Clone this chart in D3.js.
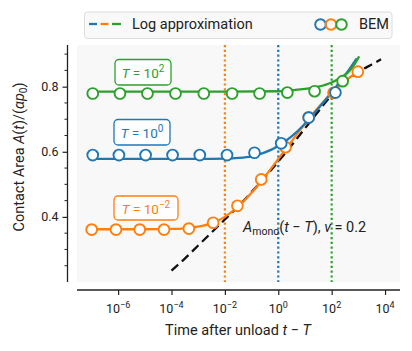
<!DOCTYPE html>
<html><head><meta charset="utf-8">
<script src="https://cdn.jsdelivr.net/npm/d3@7"></script>
<style>
body{margin:0;background:#fff;}
text{font-family:Roboto,"DejaVu Sans",sans-serif;fill:#222;}
</style></head>
<body><svg id="c" width="412" height="351"></svg>
<script>
// ---------- data (log10 of time after unload, contact area) ----------
const seriesNames = ["T = 10^-2", "T = 10^0", "T = 10^2"];
const seriesColors = ["#ff7f0e", "#1f77b4", "#2ca02c"];
const vlineLogT = [-2, 0, 2];

// BEM points
const bemLogTOrange = [-6.99, -6.08, -5.19, -4.28, -3.35, -2.44, -1.53, -0.64, 0.27, 1.14, 2.07, 2.98];
const bemAOrange    = [0.361, 0.361, 0.361, 0.361, 0.364, 0.382, 0.434, 0.515, 0.614, 0.706, 0.781, 0.846];
const bemLogTBlue   = [-6.95, -5.97, -4.97, -3.96, -2.94, -1.92, -0.89, 0.11, 1.14, 2.14];
const bemABlue      = [0.590, 0.590, 0.590, 0.590, 0.590, 0.590, 0.597, 0.626, 0.705, 0.782];
const bemLogTGreen  = [-6.95, -5.93, -4.90, -3.85, -2.79, -1.73, -0.70, 0.34, 1.36, 2.41];
const bemAGreen     = [0.779, 0.779, 0.779, 0.779, 0.779, 0.779, 0.779, 0.782, 0.786, 0.817];

// Log approximation curves
const logLogTOrange = [-6.99, -5, -4, -3.5, -3, -2.5, -2, -1.5, -1, -0.5, 0, 0.5, 1, 1.5, 2, 2.5, 2.98];
const logAOrange    = [0.362, 0.362, 0.363, 0.365, 0.370, 0.380, 0.400, 0.432, 0.474, 0.524, 0.578, 0.632, 0.686, 0.736, 0.780, 0.817, 0.846];
const logLogTBlue   = [-6.95, -3, -2, -1.5, -1, -0.5, 0, 0.5, 1, 1.5, 2, 2.5, 2.94];
const logABlue      = [0.578, 0.578, 0.579, 0.581, 0.586, 0.598, 0.618, 0.647, 0.686, 0.733, 0.783, 0.835, 0.887];
const logLogTGreen  = [-6.95, -2, 0, 0.5, 1, 1.5, 2, 2.3, 2.6, 2.8, 3.03];
const logAGreen     = [0.785, 0.785, 0.786, 0.789, 0.793, 0.800, 0.813, 0.826, 0.843, 0.862, 0.893];

// A_mono(t - T), nu = 0.2
const monoLogT = [-4.0, -3.5, -3.0, -2.5, -2.0, -1.5, -1.0, -0.5, 0.0, 0.5, 1.0, 1.5, 2.0, 2.5, 3.0, 3.5, 3.85];
const monoA    = [0.235, 0.272, 0.312, 0.352, 0.392, 0.432, 0.476, 0.522, 0.570, 0.620, 0.672, 0.724, 0.774, 0.814, 0.845, 0.868, 0.884];

const xTickExps = [-6, -4, -2, 0, 2, 4];
const yMajorTicks = [0.4, 0.6, 0.8];
const yMinorTicks = [0.25, 0.3, 0.35, 0.45, 0.5, 0.55, 0.65, 0.7, 0.75, 0.85, 0.9];

// ---------- layout ----------
const svg = d3.select("#c");
const pl = 77, pr = 400, pt = 45, pb = 282;
const x = d3.scaleLog().domain([Math.pow(10, -7.54), Math.pow(10, 4.56)]).range([pl, pr]);
const y = d3.scaleLinear().domain([0.2, 0.928]).range([pb, pt]);

svg.append("rect").attr("x", pl).attr("y", pt).attr("width", pr - pl).attr("height", pb - pt).attr("fill", "#f8f8f8");

// vertical dotted lines
vlineLogT.forEach((e, i) => {
  svg.append("line").attr("x1", x(Math.pow(10, e))).attr("x2", x(Math.pow(10, e)))
    .attr("y1", pt).attr("y2", pb).attr("stroke", seriesColors[i]).attr("stroke-width", 2.2)
    .attr("stroke-dasharray", "2.2,2.6");
});

const line = d3.line().x(d => x(Math.pow(10, d[0]))).y(d => y(d[1])).curve(d3.curveMonotoneX);
const zip = (a, b) => a.map((v, i) => [v, b[i]]);

// mono dashed
svg.append("path").attr("d", line(zip(monoLogT, monoA))).attr("fill", "none")
  .attr("stroke", "#111").attr("stroke-width", 2.3).attr("stroke-dasharray", "9,5");

const lineSets = [zip(logLogTOrange, logAOrange), zip(logLogTBlue, logABlue), zip(logLogTGreen, logAGreen)];
lineSets.forEach((pts, i) => {
  svg.append("path").attr("d", line(pts)).attr("fill", "none")
    .attr("stroke", seriesColors[i]).attr("stroke-width", 2.3);
});
const bemSets = [zip(bemLogTOrange, bemAOrange), zip(bemLogTBlue, bemABlue), zip(bemLogTGreen, bemAGreen)];
bemSets.forEach((pts, i) => {
  svg.append("g").selectAll("circle").data(pts).join("circle")
    .attr("cx", d => x(Math.pow(10, d[0]))).attr("cy", d => y(d[1])).attr("r", 5.4)
    .attr("fill", "#fff").attr("stroke", seriesColors[i]).attr("stroke-width", 1.9);
});

// ---------- axes ----------
// left spine (offset)
const yAxis = d3.axisLeft(y).tickValues(yMajorTicks).tickFormat(d3.format(".1f")).tickSize(5).tickPadding(4);
const gy = svg.append("g").attr("transform", "translate(67.5,0)").call(yAxis);
gy.select(".domain").attr("d", `M0,${pt}V${pb}`).attr("stroke", "#222").attr("stroke-width", 1.3);
gy.selectAll(".tick line").attr("stroke", "#222").attr("stroke-width", 1.2);
gy.selectAll("text").attr("font-size", 12.5).attr("fill", "#222").style("font-family", "Roboto");
gy.append("g").selectAll("line").data(yMinorTicks).join("line")
  .attr("x1", 0).attr("x2", -3).attr("y1", d => y(d)).attr("y2", d => y(d)).attr("stroke", "#222").attr("stroke-width", 1);

const xAxis = d3.axisBottom(x).tickValues(xTickExps.map(e => Math.pow(10, e))).tickFormat("").tickSize(5);
const gx = svg.append("g").attr("transform", "translate(0,290)").call(xAxis);
gx.select(".domain").attr("d", `M${pl},0H${pr}`).attr("stroke", "#222").attr("stroke-width", 1.3);
gx.selectAll(".tick line").attr("stroke", "#222").attr("stroke-width", 1.2);
xTickExps.forEach(e => {
  const t = svg.append("text").attr("x", x(Math.pow(10, e))).attr("y", 313).attr("text-anchor", "middle").attr("font-size", 12.5);
  t.append("tspan").text("10");
  t.append("tspan").attr("dy", -5).attr("font-size", 9).text(e < 0 ? "\u2212" + (-e) : String(e));
});

// axis labels
const xl = svg.append("text").attr("x", 238).attr("y", 335).attr("text-anchor", "middle").attr("font-size", 14.5);
xl.append("tspan").text("Time after unload ");
xl.append("tspan").attr("font-style", "italic").text("t");
xl.append("tspan").text(" \u2212 ");
xl.append("tspan").attr("font-style", "italic").text("T");

const yl = svg.append("text").attr("transform", "translate(24,157) rotate(-90)").attr("text-anchor", "middle").attr("font-size", 14.5);
yl.append("tspan").text("Contact Area ");
yl.append("tspan").attr("font-style", "italic").text("A");
yl.append("tspan").text("(");
yl.append("tspan").attr("font-style", "italic").text("t");
yl.append("tspan").text(")/(");
yl.append("tspan").attr("font-style", "italic").text("\u03b1p");
yl.append("tspan").attr("dy", 3).attr("font-size", 10).text("0");
yl.append("tspan").attr("dy", -3).text(")");

// series labels
const labelBoxes = [[114, 196, 64, 24, "\u22122"], [114, 119.5, 56, 25.5, "0"], [115, 59.5, 56, 25.5, "2"]];
labelBoxes.forEach((b, i) => {
  svg.append("rect").attr("x", b[0]).attr("y", b[1]).attr("width", b[2]).attr("height", b[3]).attr("rx", 4)
    .attr("fill", "#fff").attr("fill-opacity", 0.85).attr("stroke", seriesColors[i]).attr("stroke-width", 1.3);
  const t = svg.append("text").attr("x", b[0] + b[2] / 2).attr("y", b[1] + b[3] / 2 + 5.5).attr("text-anchor", "middle")
    .attr("font-size", 13.5).style("fill", seriesColors[i]);
  t.append("tspan").attr("font-style", "italic").style("fill", seriesColors[i]).text("T");
  t.append("tspan").style("fill", seriesColors[i]).text(" = 10");
  t.append("tspan").attr("dy", -6).attr("font-size", 10).style("fill", seriesColors[i]).text(b[4]);
});

// mono annotation
const an = svg.append("text").attr("x", 243).attr("y", 232).attr("font-size", 14.5);
an.append("tspan").attr("font-style", "italic").text("A");
an.append("tspan").attr("dy", 3).attr("font-size", 10.5).text("mono");
an.append("tspan").attr("dy", -3).text("(");
an.append("tspan").attr("font-style", "italic").text("t");
an.append("tspan").text(" \u2212 ");
an.append("tspan").attr("font-style", "italic").text("T");
an.append("tspan").text("), ");
an.append("tspan").attr("font-style", "italic").text("\u03bd");
an.append("tspan").text(" = 0.2");

// legend
svg.append("rect").attr("x", 84.5).attr("y", 12).attr("width", 307.5).attr("height", 26.5).attr("rx", 3)
  .attr("fill", "#f9f9f9").attr("stroke", "#dcdcdc").attr("stroke-width", 1);
[[89, 97], [100.5, 108.5], [112, 121]].forEach((s, i) => {
  svg.append("line").attr("x1", s[0]).attr("x2", s[1]).attr("y1", 24).attr("y2", 24)
    .attr("stroke", seriesColors[[1, 0, 2][i]]).attr("stroke-width", 2.3);
});
svg.append("text").attr("x", 132).attr("y", 29).attr("font-size", 14.5).text("Log approximation");
[320.5, 331, 341.5].forEach((cx, i) => {
  svg.append("circle").attr("cx", cx).attr("cy", 24.5).attr("r", 5.3).attr("fill", "none")
    .attr("stroke", seriesColors[[1, 0, 2][i]]).attr("stroke-width", 1.9);
});
svg.append("text").attr("x", 359).attr("y", 29).attr("font-size", 14.5).text("BEM");
</script></body></html>
